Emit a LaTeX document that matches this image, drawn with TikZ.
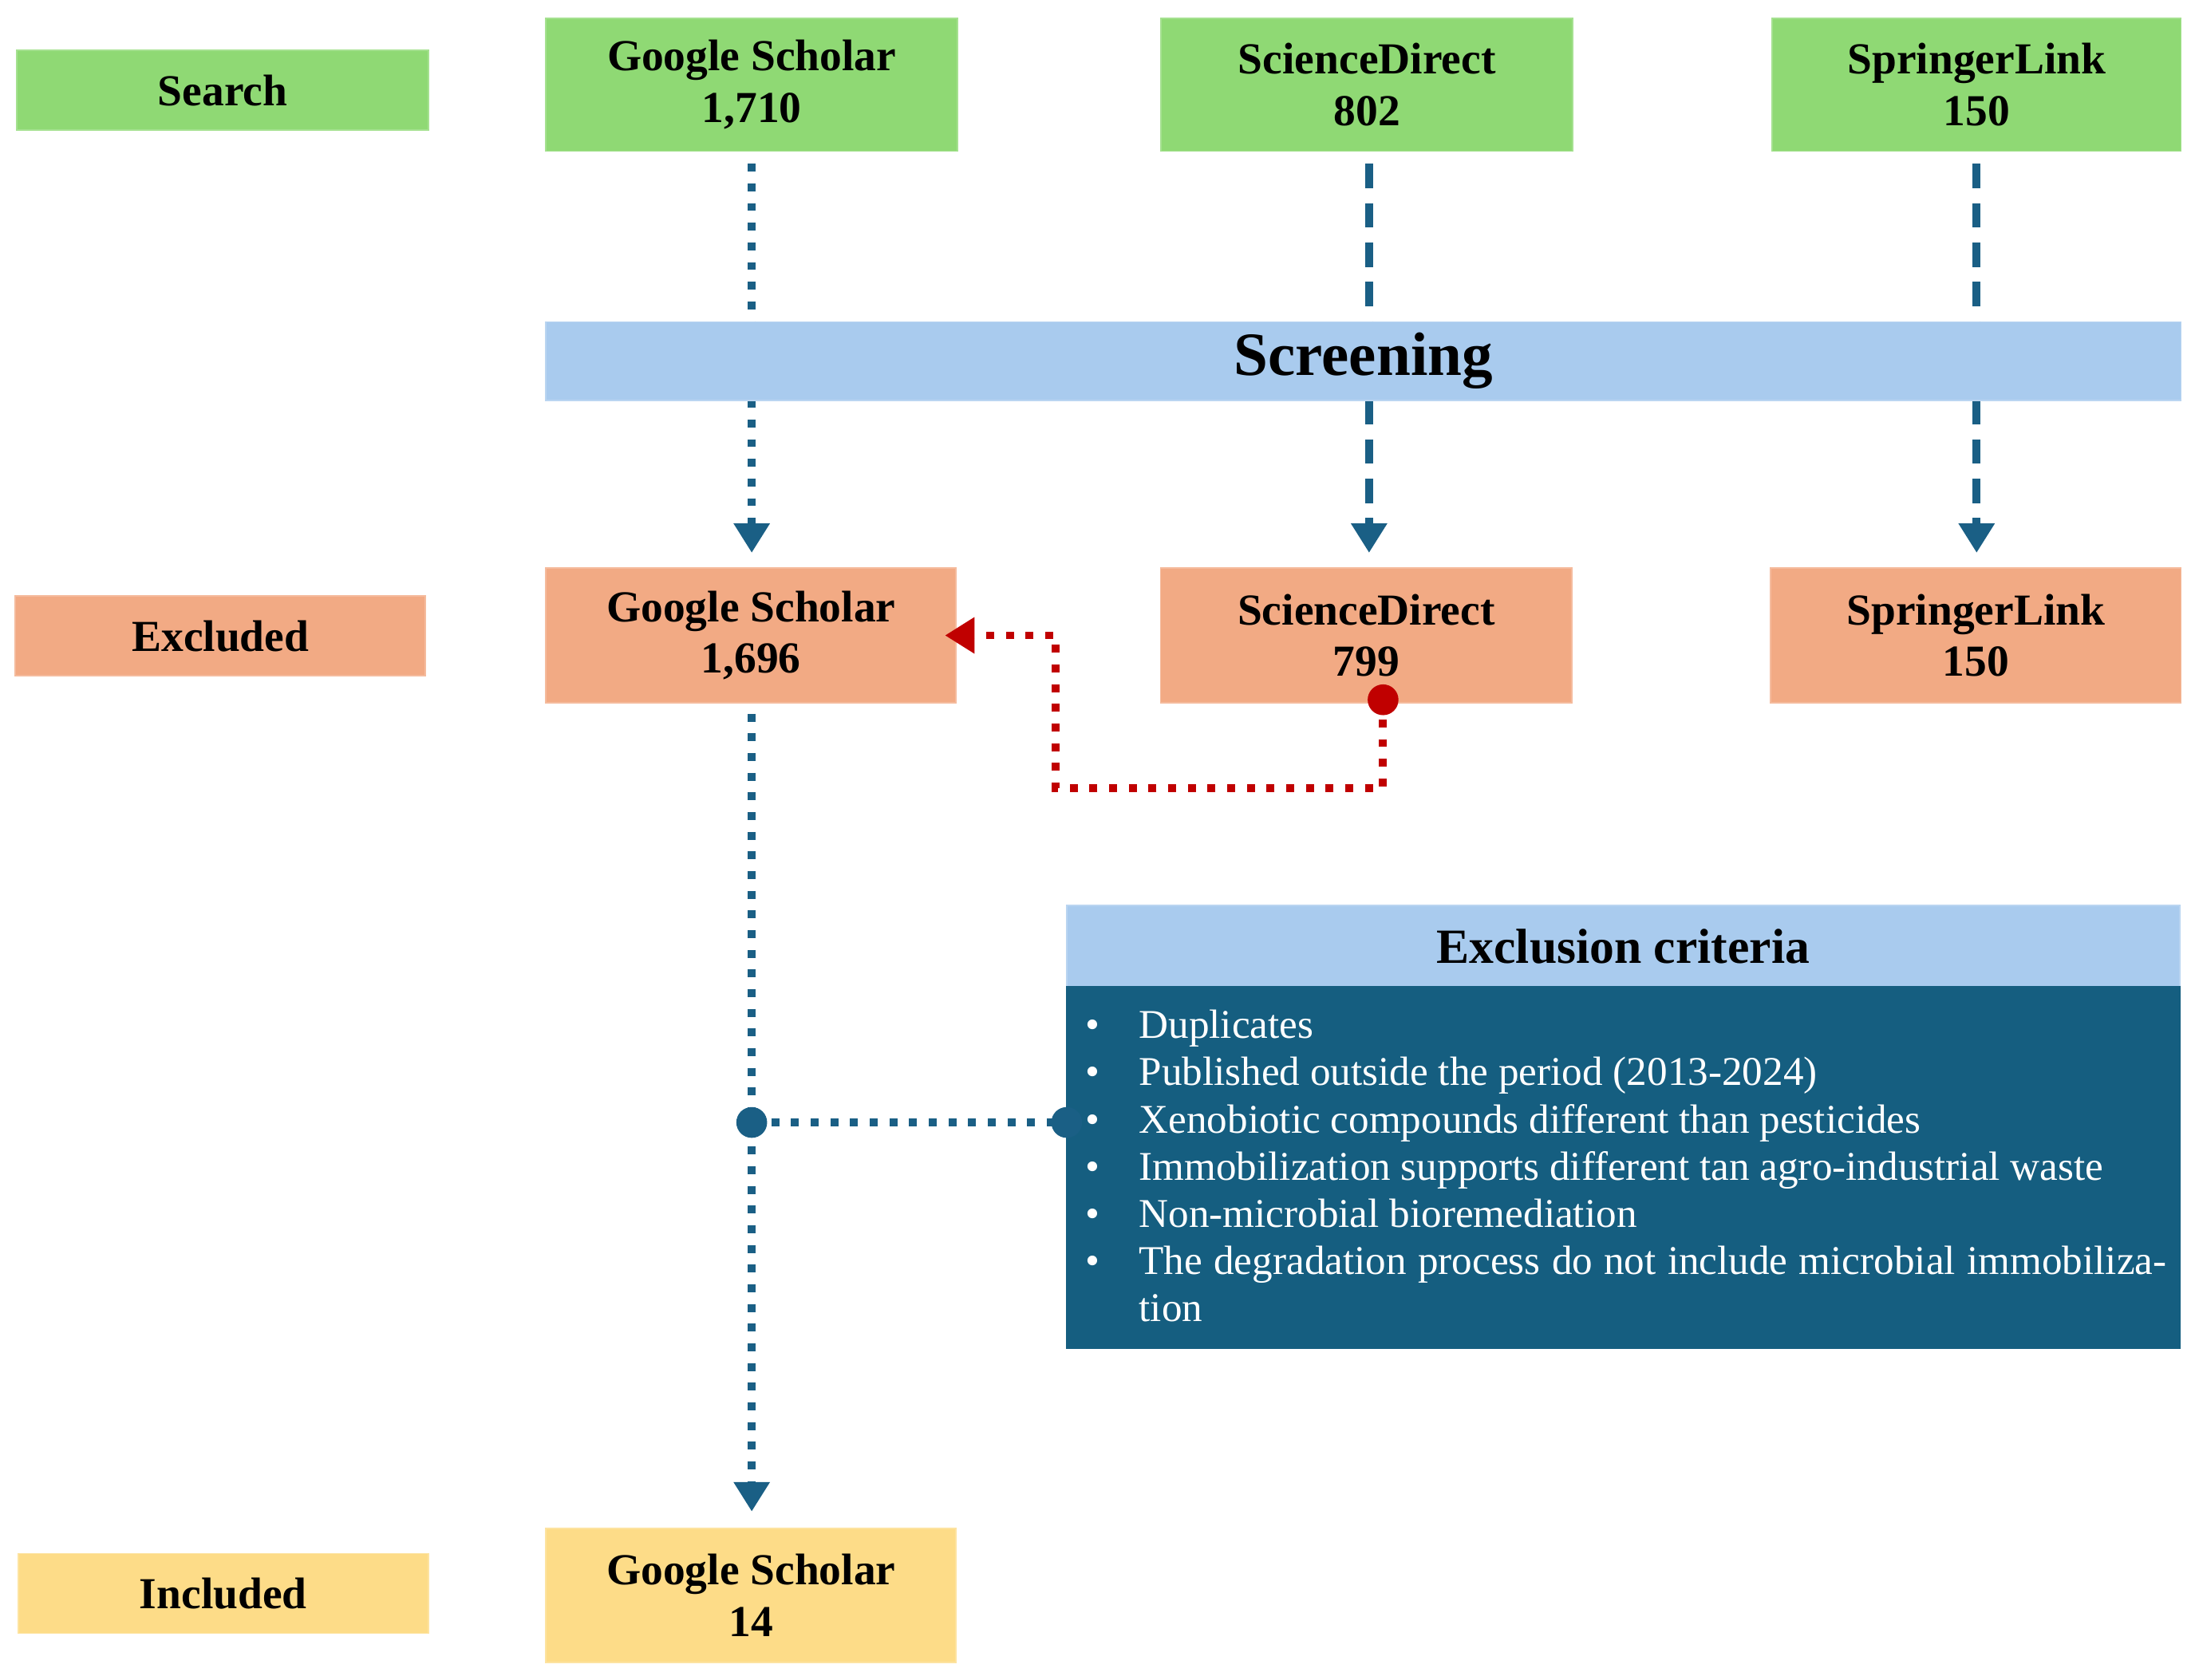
\documentclass[tikz,border=0pt]{standalone}
\usepackage{fontspec}
\setmainfont{Liberation Serif}
\usetikzlibrary{arrows.meta}
\definecolor{cgreen}{HTML}{8FD974}
\definecolor{cblue}{HTML}{A9CBEE}
\definecolor{csalmon}{HTML}{F2AA84}
\definecolor{cyellow}{HTML}{FDDC88}
\definecolor{cdark}{HTML}{155E80}
\definecolor{carrow}{HTML}{1A5F85}
\definecolor{cred}{HTML}{C00000}
\begin{document}
\begin{tikzpicture}[x=0.1mm,y=-0.1mm,
  box/.style={draw=#1!80!white,fill=#1,line width=0.3pt,inner sep=0pt,align=center,font=\fontsize{9}{10.5}\selectfont\bfseries},
  dotl/.style={draw=carrow,line width=1.6pt,dash pattern=on 1.6pt off 2.4pt},
  dashl/.style={draw=carrow,line width=1.6pt,dash pattern=on 5pt off 3pt},
  tip/.style={-{Triangle[length=6pt,width=7pt]}}]
\useasboundingbox (0,0) rectangle (1568,1200);
% arrows first
\coordinate (gsT) at (537,117); \coordinate (gsA) at (537,395);
\coordinate (sdT) at (978,117); \coordinate (sdA) at (978,395);
\coordinate (slT) at (1412,117); \coordinate (slA) at (1412,395);
\draw[dotl,tip,carrow] (gsT) -- (gsA);
\draw[dashl,tip,carrow] (sdT) -- (sdA);
\draw[dashl,tip,carrow] (slT) -- (slA);
% search row
\node[box=cgreen,minimum width=294*0.1mm,minimum height=57*0.1mm] (search) at (159,64.5) {Search};
\node[box=cgreen,minimum width=294*0.1mm,minimum height=95*0.1mm] (gs1) at (537,60.5) {Google Scholar\\1,710};
\node[box=cgreen,minimum width=294*0.1mm,minimum height=95*0.1mm] (sd1) at (976.5,60.5) {ScienceDirect\\802};
\node[box=cgreen,minimum width=292*0.1mm,minimum height=95*0.1mm] (sl1) at (1412,60.5) {SpringerLink\\150};
\node[box=cblue,minimum width=1168*0.1mm,minimum height=56*0.1mm,font=\fontsize{12.5}{14}\selectfont\bfseries] (scr) at (974,258) {Screening};
% excluded row
\node[box=csalmon,minimum width=293*0.1mm,minimum height=57*0.1mm] (excl) at (157.5,454.5) {Excluded};
\node[box=csalmon,minimum width=293*0.1mm,minimum height=96*0.1mm] (gs2) at (536.5,454) {Google Scholar\\1,696};
\node[box=csalmon,minimum width=294*0.1mm,minimum height=96*0.1mm] (sd2) at (976,454) {ScienceDirect\\799};
\node[box=csalmon,minimum width=293*0.1mm,minimum height=96*0.1mm] (sl2) at (1411.5,454) {SpringerLink\\150};
% included row
\node[box=cyellow,minimum width=293*0.1mm,minimum height=57*0.1mm] (incl) at (159.5,1138.5) {Included};
\node[box=cyellow,minimum width=293*0.1mm,minimum height=96*0.1mm] (gs3) at (536.5,1140) {Google Scholar\\14};
% exclusion criteria
\node[box=cblue,minimum width=795*0.1mm,minimum height=58*0.1mm,font=\fontsize{10}{12}\selectfont\bfseries] (ech) at (1159.5,676) {Exclusion criteria};
\node[fill=cdark,draw=cdark,minimum width=795*0.1mm,minimum height=258*0.1mm,inner sep=0pt] (ecb) at (1159.5,834) {};
\node[anchor=north west,text=white,inner sep=0pt,font=\fontsize{8.3}{9.6}\selectfont] (ect) at (772,721) {%
\begin{minipage}{77.5mm}
\setlength{\parindent}{0pt}%
\def\it#1{\hangindent=4.1mm\hangafter=1\makebox[4.1mm][l]{\hspace{0.3mm}\textbullet}#1\par}
\it{Duplicates}
\it{Published outside the period (2013-2024)}
\it{Xenobiotic compounds different than pesticides}
\it{Immobilization supports different tan agro-industrial waste}
\it{Non-microbial bioremediation}
\it{The degradation process do not include microbial immobilization}
\end{minipage}};
% red connector
\coordinate (r0) at (988,500); \coordinate (r1) at (988,563);
\coordinate (r2) at (754,563); \coordinate (r3) at (754,454);
\coordinate (r4) at (675,454);
\draw[draw=cred,line width=1.6pt,dash pattern=on 1.6pt off 2.4pt,-{Triangle[length=6pt,width=7pt]},cred] (r0) -- (r1) -- (r2) -- (r3) -- (r4);
\fill[cred] (r0) circle (11);
% lower connector
\coordinate (g0) at (537,510); \coordinate (g1) at (537,1080);
\coordinate (gm) at (537,802); \coordinate (ge) at (762,802);
\draw[dotl,tip,carrow] (g0) -- (g1);
\draw[dotl] (gm) -- (ge);
\fill[carrow] (gm) circle (11);
\fill[carrow] (ge) circle (11);
\end{tikzpicture}
\end{document}
